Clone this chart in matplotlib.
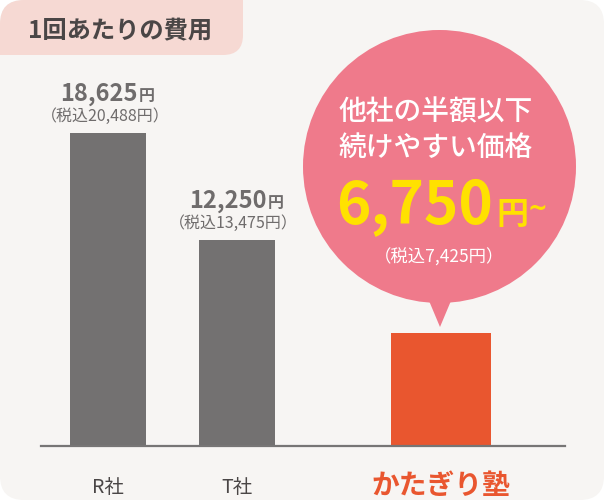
import matplotlib
matplotlib.use("Agg")
import matplotlib.pyplot as plt
from matplotlib.patches import FancyBboxPatch, Circle, Polygon

plt.rcParams['font.family'] = ['Noto Sans CJK JP', 'DejaVu Sans']

# data
companies = ["R社", "T社", "かたぎり塾"]
prices = [18625, 12250, 6750]
prices_tax = [20488, 13475, 7425]
title = "1回あたりの費用"
bubble_lines = ["他社の半額以下", "続けやすい価格"]

# colours
bg_col = "#f7f5f3"
tab_col = "#f6d9d3"
gray_bar = "#737171"
orange = "#e9562f"
pink = "#ef7a8b"
yellow = "#ffe100"
text_dark = "#4a4646"
text_gray = "#6f6c6c"

W, H = 604, 500
fig = plt.figure(figsize=(W / 100, H / 100), dpi=100)
fig.patch.set_facecolor("white")

# overlay axes in pixel coordinates
ov = fig.add_axes([0, 0, 1, 1])
ov.set_xlim(0, W)
ov.set_ylim(H, 0)
ov.axis("off")

bg = FancyBboxPatch((0, 0), W, H, boxstyle="round,pad=0,rounding_size=24",
                    fc=bg_col, ec="none")
ov.add_patch(bg)

tab = FancyBboxPatch((-40, -40), 283, 95, boxstyle="round,pad=0,rounding_size=20",
                     fc=tab_col, ec="none")
ov.add_patch(tab)
tab.set_clip_path(bg)
ov.text(28, 31, title, fontsize=17.5, fontweight="bold", color=text_dark,
        ha="left", va="center")

# speech bubble
ov.add_patch(Circle((439.5, 166.5), 136.5, fc=pink, ec="none"))
ov.add_patch(Polygon([(427, 296), (453, 296), (440, 327)], closed=True, fc=pink, ec="none"))
ov.text(436, 112, bubble_lines[0], fontsize=20, fontweight="medium", color="white",
        ha="center", va="center")
ov.text(436, 147, bubble_lines[1], fontsize=20, fontweight="medium", color="white",
        ha="center", va="center")
ov.text(493, 224, f"{prices[2]:,}", fontsize=42, fontweight="bold", color=yellow,
        ha="right", va="baseline")
ov.text(496, 224, "円", fontsize=23, fontweight="bold", color=yellow,
        ha="left", va="baseline")
ov.text(528, 216, "~", fontsize=17, fontweight="bold", color=yellow,
        ha="left", va="baseline", family="DejaVu Sans")
ov.text(439, 257, f"（税込{prices_tax[2]:,}円）", fontsize=12.5, color="white",
        ha="center", va="center")

# bar axes
base_y, top_y, left_x, right_x = 446, 30, 41, 565
ax = fig.add_axes([left_x / W, (H - base_y) / H, (right_x - left_x) / W, (base_y - top_y) / H])
ax.patch.set_alpha(0)
ax.set_xlim(left_x, right_x)
ax.set_ylim(0, prices[0] * (base_y - top_y) / 313)

centers = [108, 236.5, 440.5]
widths = [76, 76, 100]
colors = [gray_bar, gray_bar, orange]
ax.bar(centers, prices, width=widths, color=colors, zorder=2)

for s in ["top", "right", "left"]:
    ax.spines[s].set_visible(False)
ax.spines["bottom"].set_color("#777575")
ax.spines["bottom"].set_linewidth(1.6)
ax.spines["bottom"].set_zorder(3)
ax.set_yticks([])
ax.set_xticks(centers)
ax.set_xticklabels(companies)
ax.tick_params(axis="x", length=0, pad=22)
labels = ax.get_xticklabels()
for lab in labels[:2]:
    lab.set_fontsize(14)
    lab.set_color(text_dark)
labels[2].set_fontsize(20)
labels[2].set_fontweight("bold")
labels[2].set_color(orange)
labels[2].set_y(0.012)

# value labels above the grey bars
for i in range(2):
    ax.annotate(f"{prices[i]:,}", xy=(centers[i], prices[i]), xytext=(30, 32),
                textcoords="offset pixels", ha="right", va="baseline",
                fontsize=17, fontweight="bold", color=text_gray)
    ax.annotate("円", xy=(centers[i], prices[i]), xytext=(31, 32),
                textcoords="offset pixels", ha="left", va="baseline",
                fontsize=11.5, fontweight="bold", color=text_gray)
    ax.annotate(f"（税込{prices_tax[i]:,}円）", xy=(centers[i], prices[i]), xytext=(-3, 17),
                textcoords="offset pixels", ha="center", va="center",
                fontsize=11.5, color=text_gray)

fig.savefig("out.png", dpi=100, facecolor=fig.get_facecolor())
